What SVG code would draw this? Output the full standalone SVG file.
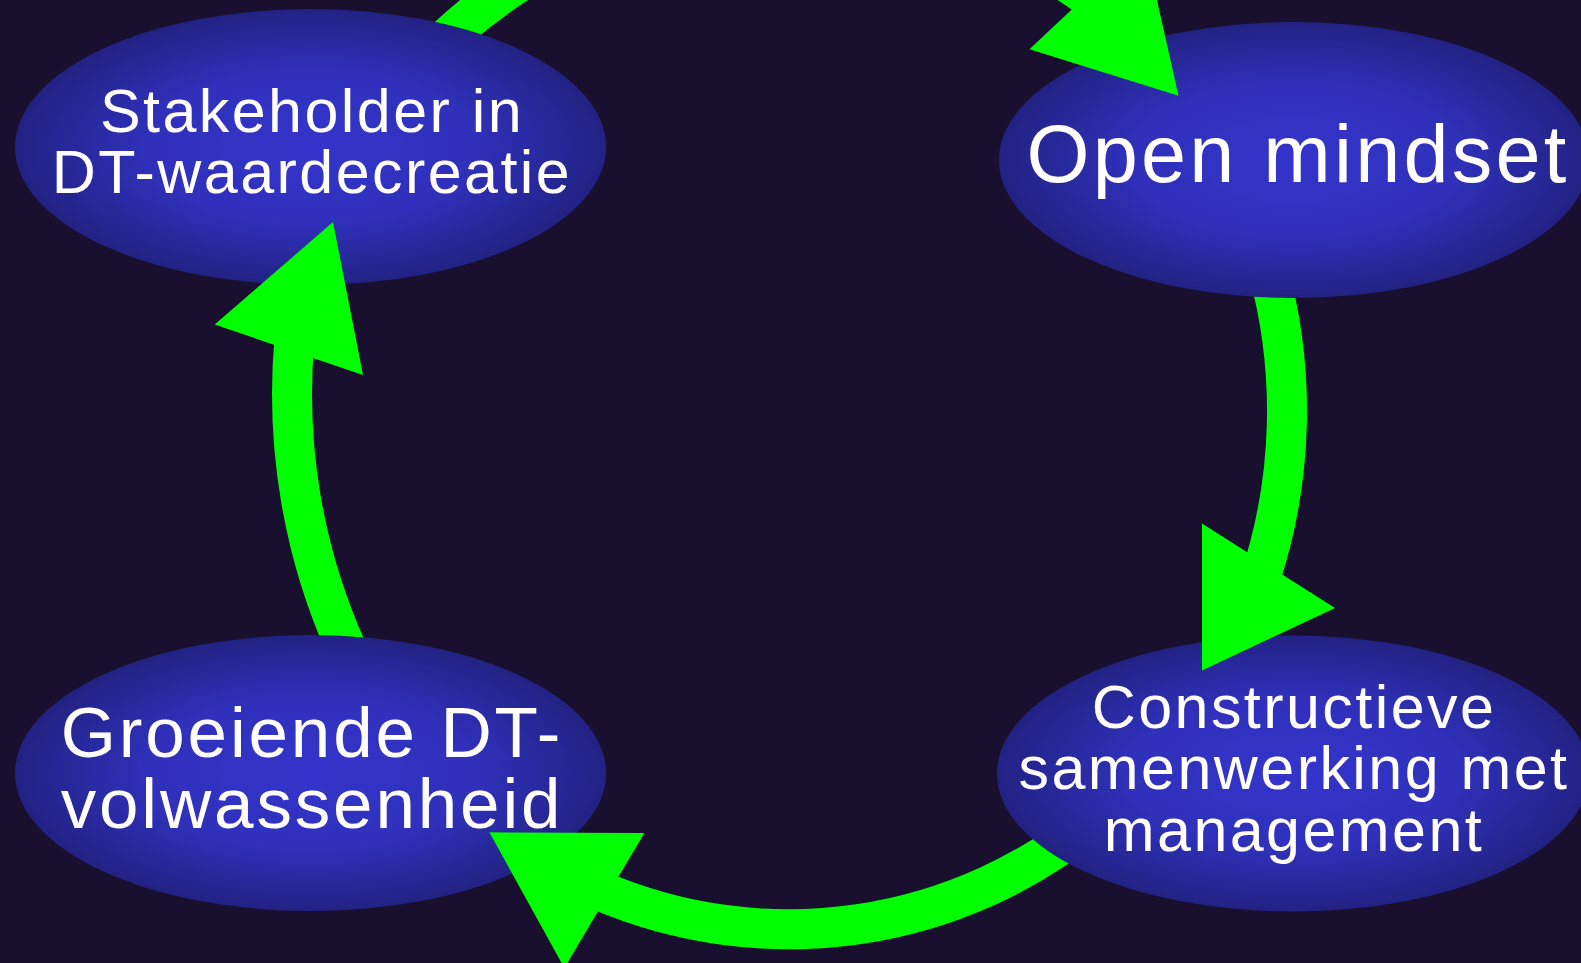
<svg xmlns="http://www.w3.org/2000/svg" width="1581" height="963" viewBox="0 0 1581 963">
  <defs>
    <style>
      .node-shape { fill: url(#nodeGrad); }
      .label { font-family: "Liberation Sans", Arial, sans-serif; fill: #ffffff; text-anchor: middle; letter-spacing: 0.04em; }
      .shaft { fill: none; stroke: #00ff00; stroke-width: 40; }
      .head { fill: #00ff00; }
    </style>
    <radialGradient id="nodeGrad" cx="50%" cy="50%" r="50%">
      <stop offset="0" stop-color="#3434cc"/>
      <stop offset="0.55" stop-color="#3030bb"/>
      <stop offset="1" stop-color="#222284"/>
    </radialGradient>
    <mask id="outsideNodes" maskUnits="userSpaceOnUse" x="-100" y="-300" width="1800" height="1400">
      <rect x="-100" y="-300" width="1800" height="1400" fill="#fff"/>
      <ellipse cx="310.5" cy="147" rx="295.5" ry="138" fill="#000"/>
      <ellipse cx="1294" cy="160" rx="295" ry="138" fill="#000"/>
      <ellipse cx="310.5" cy="773" rx="295.5" ry="138" fill="#000"/>
      <ellipse cx="1293" cy="773.5" rx="296" ry="138" fill="#000"/>
    </mask>
  </defs>

  <rect x="0" y="0" width="1581" height="963" fill="#191030"/>

  <g id="node-stakeholder">
    <ellipse class="node-shape" cx="310.5" cy="147" rx="295.5" ry="138"/>
    <text class="label" font-size="61" x="312" y="132"><tspan x="312" y="132">Stakeholder in</tspan><tspan x="312" y="193">DT-waardecreatie</tspan></text>
  </g>

  <g id="node-open-mindset">
    <ellipse class="node-shape" cx="1294" cy="160" rx="295" ry="138"/>
    <text class="label" font-size="81" x="1298" y="182">Open mindset</text>
  </g>

  <g id="node-constructieve">
    <ellipse class="node-shape" cx="1293" cy="773.5" rx="296" ry="138"/>
    <text class="label" font-size="61" x="1294" y="728"><tspan x="1294" y="728">Constructieve</tspan><tspan x="1294" y="789">samenwerking met</tspan><tspan x="1294" y="851">management</tspan></text>
  </g>

  <g id="node-groeiende">
    <ellipse class="node-shape" cx="310.5" cy="773" rx="295.5" ry="138"/>
    <text class="label" font-size="71" x="312" y="757"><tspan x="312" y="757">Groeiende DT-</tspan><tspan x="312" y="828">volwassenheid</tspan></text>
  </g>

  <g id="connectors">
    <g id="c-stakeholder-open">
      <path class="shaft" mask="url(#outsideNodes)" d="M 415.7 69.8 A 507.5 507.5 0 0 1 1094.7 1.4"/>
      <polygon class="head" points="1029.5,49.3 1143.8,-58.3 1178.5,95.7"/>
    </g>
    <g id="c-open-constructieve">
      <path class="shaft" mask="url(#outsideNodes)" d="M 1268.2 270 A 537 537 0 0 1 1260.7 576.9"/>
      <polygon class="head" points="1202,523.5 1335,608 1202,670.5"/>
    </g>
    <g id="c-constructieve-groeiende">
      <path class="shaft" mask="url(#outsideNodes)" d="M 1097.6 816.8 A 480.7 480.7 0 0 1 599.2 890.4"/>
      <polygon class="head" points="644.4,833 564.4,968 489.4,832.3"/>
    </g>
    <g id="c-groeiende-stakeholder">
      <path class="shaft" mask="url(#outsideNodes)" d="M 347 650 A 623 623 0 0 1 294.4 339.7"/>
      <polygon class="head" points="214.7,324.5 363,375 333,222"/>
    </g>
  </g>
</svg>
